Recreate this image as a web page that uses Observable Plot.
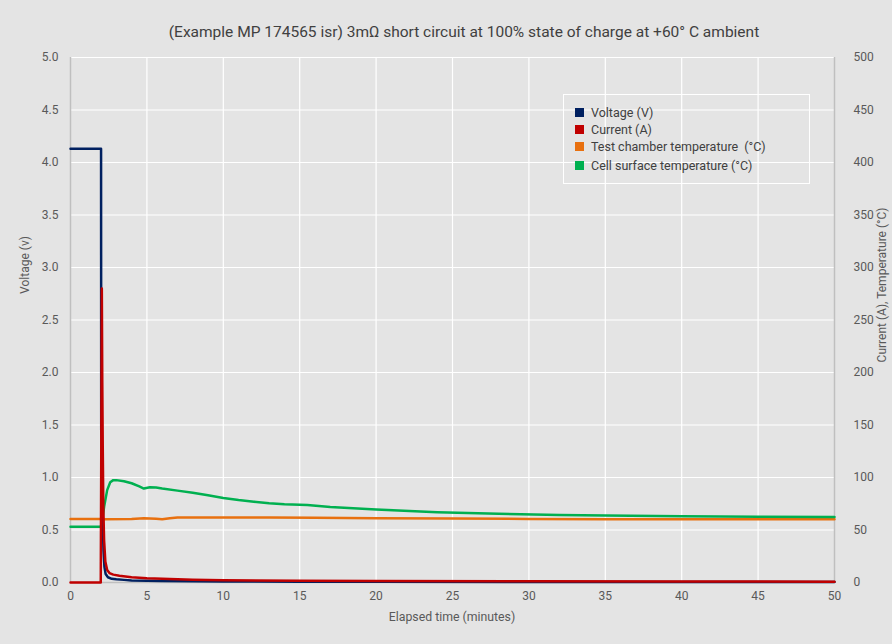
<!DOCTYPE html>
<html>
<head>
<meta charset="utf-8">
<script src="https://cdn.jsdelivr.net/npm/d3@7"></script>
<script src="https://cdn.jsdelivr.net/npm/@observablehq/plot@0.6"></script>
<style>
  html, body { margin: 0; padding: 0; background: #e4e4e4; }
  body { width: 892px; height: 644px; position: relative; overflow: hidden; font-family: Roboto, "Noto Sans", sans-serif; }
  #title { height: 20px; padding-top: 22px; padding-bottom: 3px; padding-left: 36px; text-align: center; font-size: 15.5px; line-height: 20px; color: #404040; box-sizing: content-box; }
  .ytitle { position: absolute; font-size: 12px; line-height: 14px; color: #595959; white-space: nowrap; transform: translate(-50%, -50%) rotate(-90deg); }
  #xtitle { position: absolute; left: 452px; top: 617px; transform: translate(-50%, -50%); font-size: 12.3px; color: #595959; white-space: nowrap; }
  #legend { position: absolute; left: 563px; top: 94px; width: 245px; height: 88px; border: 1px solid #ffffff; }
  .item { position: absolute; left: 11px; font-size: 12.5px; color: #404040; white-space: pre; line-height: 14px; }
  .sw { display: inline-block; width: 9px; height: 9px; margin-right: 7px; vertical-align: 0px; }
</style>
</head>
<body>
<div id="title">(Example MP 174565 isr) 3mΩ short circuit at 100% state of charge at +60° C ambient</div>
<div id="chart"></div>
<div class="ytitle" style="left:25px; top:265px;">Voltage (v)</div>
<div class="ytitle" style="left:882px; top:285px;">Current (A), Temperature (°C)</div>
<div id="xtitle">Elapsed time (minutes)</div>
<div id="legend"></div>
<script>
// ---- data (minutes, values) ----
const seriesNames = ["Voltage (V)", "Current (A)", "Test chamber temperature  (°C)", "Cell surface temperature (°C)"];
const seriesColors = ["#002060", "#c00000", "#e8700f", "#00b050"];

const voltageTime  = [0, 2.0, 2.01, 2.04, 2.08, 2.12, 2.16, 2.22, 2.3, 2.45, 2.7, 3.0, 3.5, 4.0, 5.0, 6.0, 8.0, 10, 15, 20, 30, 40, 50];
const voltageValue = [4.13, 4.13, 1.45, 1.32, 1.0, 0.55, 0.3, 0.15, 0.08, 0.05, 0.035, 0.03, 0.025, 0.02, 0.017, 0.014, 0.012, 0.01, 0.008, 0.006, 0.005, 0.004, 0.004];

const currentTime  = [0, 1.98, 2.02, 2.05, 2.08, 2.11, 2.15, 2.2, 2.28, 2.4, 2.55, 2.8, 3.2, 4.0, 5.0, 6.0, 8.0, 10, 15, 20, 30, 40, 50];
const currentValue = [0, 0, 150, 280, 190, 130, 70, 40, 20, 12, 9, 7.5, 6.5, 5, 4, 3.5, 2.7, 2.2, 1.7, 1.4, 1.1, 0.9, 0.8];

const chamberTime  = [0, 2.0, 2.2, 4.0, 4.8, 5.2, 5.6, 6.0, 6.5, 7.0, 8.5, 10, 13, 16, 20, 25, 30, 35, 40, 45, 50];
const chamberValue = [60.5, 60.5, 60.3, 60.5, 61.3, 61.0, 60.6, 60.2, 61.2, 61.8, 62.0, 62.0, 62.0, 61.6, 61.3, 60.9, 60.5, 60.3, 60.2, 60.2, 60.2];

const cellTime  = [0, 1.97, 2.05, 2.2, 2.4, 2.6, 2.8, 3.0, 3.5, 4.0, 4.5, 4.8, 5.2, 5.6, 6.0, 7.0, 8.0, 9.0, 10, 11, 12, 13, 14, 14.5, 15.5, 17, 20, 24, 28, 32, 35, 40, 45, 50];
const cellValue = [53, 53, 56, 72, 88, 95.5, 97.5, 97.5, 96.5, 94.5, 91.5, 89.5, 90.8, 90.5, 89.5, 87.5, 85.5, 83, 80.5, 78.5, 77, 75.5, 74.5, 74.2, 73.8, 72, 69.5, 67, 65.5, 64.3, 63.7, 63.1, 62.6, 62.4];

const voltTicks  = [0, 0.5, 1.0, 1.5, 2.0, 2.5, 3.0, 3.5, 4.0, 4.5, 5.0];
const rightTicks = [0, 50, 100, 150, 200, 250, 300, 350, 400, 450, 500];
const timeTicks  = [0, 5, 10, 15, 20, 25, 30, 35, 40, 45, 50];

// ---- tables ----
const toRows = (ts, vs) => ts.map((t, i) => ({t, v: vs[i]}));
const voltage = toRows(voltageTime, voltageValue);
const current = toRows(currentTime, currentValue);
const chamber = toRows(chamberTime, chamberValue);
const cell = toRows(cellTime, cellValue);
const rightScale = 100; // right axis units per left (voltage) unit

const axisColor = "#bfbfbf";
const chart = Plot.plot({
  width: 892,
  height: 599,
  marginLeft: 70,
  marginRight: 58,
  marginTop: 12,
  marginBottom: 62,
  style: {background: "transparent", fontFamily: "Roboto, 'Noto Sans', sans-serif", fontSize: "12px", color: "#595959"},
  x: {domain: [0, 50]},
  y: {domain: [0, 5]},
  marks: [
    Plot.gridY(voltTicks, {stroke: "#ffffff", strokeOpacity: 1, strokeWidth: 1.2}),
    Plot.gridX(timeTicks.slice(1, -1), {stroke: "#ffffff", strokeOpacity: 1, strokeWidth: 1.2}),
    Plot.ruleX([0], {stroke: axisColor, strokeWidth: 1.5}),
    Plot.ruleX([50], {stroke: axisColor, strokeWidth: 1.5}),
    Plot.ruleY([0], {stroke: axisColor, strokeWidth: 1.5}),
    Plot.axisY(voltTicks, {anchor: "left", tickSize: 0, tickPadding: 12, tickFormat: d3.format(".1f"), label: null, fill: "#595959"}),
    Plot.axisY(rightTicks.map(d => d / rightScale), {anchor: "right", tickSize: 0, tickPadding: 19, textAnchor: "start", tickFormat: d => String(Math.round(d * rightScale)), label: null, fill: "#595959"}),
    Plot.axisX(timeTicks, {tickSize: 0, tickPadding: 9, label: null, fill: "#595959"}),
    Plot.line(chamber, {x: "t", y: d => d.v / rightScale, stroke: seriesColors[2], strokeWidth: 2.5}),
    Plot.line(cell, {x: "t", y: d => d.v / rightScale, stroke: seriesColors[3], strokeWidth: 2.5}),
    Plot.line(voltage, {x: "t", y: "v", stroke: seriesColors[0], strokeWidth: 2.5}),
    Plot.line(current, {x: "t", y: d => d.v / rightScale, stroke: seriesColors[1], strokeWidth: 2.5})
  ]
});
document.getElementById("chart").appendChild(chart);

// ---- legend ----
const legend = document.getElementById("legend");
const legendTops = [11, 28, 45, 64];
seriesNames.forEach((name, i) => {
  const el = document.createElement("div");
  el.className = "item";
  el.style.top = legendTops[i] + "px";
  el.innerHTML = `<span class="sw" style="background:${seriesColors[i]}"></span>`;
  el.appendChild(document.createTextNode(name));
  legend.appendChild(el);
});
</script>
</body>
</html>
